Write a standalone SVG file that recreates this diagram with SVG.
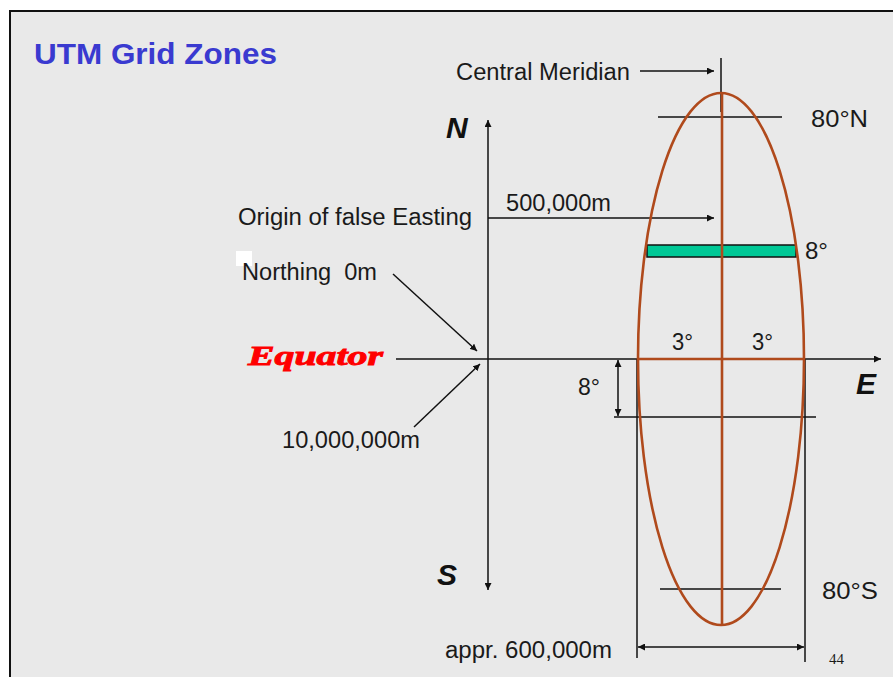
<svg xmlns="http://www.w3.org/2000/svg" width="893" height="677" viewBox="0 0 893 677">
<defs>
<marker id="ah" viewBox="0 0 10 10" refX="10" refY="5" markerWidth="7" markerHeight="7" markerUnits="userSpaceOnUse" orient="auto-start-reverse">
<path d="M0,0 L10,5 L0,10 z" fill="#111"/>
</marker>
<style>
.lbl{font-family:"Liberation Sans",Arial,sans-serif;fill:#1a1a1a;font-size:23px}
.ax{font-family:"Liberation Sans",Arial,sans-serif;fill:#111;font-size:30px;font-weight:bold;font-style:italic}
.ln{stroke:#111;stroke-width:1.5;fill:none}
.br{stroke:#b04a1c;stroke-width:2.6;fill:none}
</style>
</defs>
<rect x="0" y="0" width="893" height="677" fill="#ffffff"/>
<rect x="10" y="11" width="900" height="700" fill="#e9e9e9" stroke="#111" stroke-width="2"/>
<g id="title"><text x="34" y="64" font-family="Liberation Sans,Arial,sans-serif" font-weight="bold" font-size="29" fill="#3a3ad0" textLength="243" lengthAdjust="spacingAndGlyphs">UTM Grid Zones</text></g>
<g id="connectors">
<line class="ln" x1="721" y1="58" x2="721" y2="112"/>
<line class="ln" x1="640" y1="71" x2="714" y2="71" marker-end="url(#ah)"/>
<line class="ln" x1="488" y1="358" x2="488" y2="120" marker-end="url(#ah)"/>
<line class="ln" x1="488" y1="358" x2="488" y2="590" marker-end="url(#ah)"/>
<line class="ln" x1="488" y1="218" x2="714" y2="218" marker-end="url(#ah)"/>
<line class="ln" x1="396" y1="359" x2="881" y2="359" marker-end="url(#ah)"/>
<line class="ln" x1="393" y1="274" x2="477" y2="351" marker-end="url(#ah)"/>
<line class="ln" x1="414" y1="427" x2="480" y2="364" marker-end="url(#ah)"/>
<line class="ln" x1="658" y1="117" x2="782" y2="117"/>
<line class="ln" x1="660" y1="589" x2="781" y2="589"/>
<line class="ln" x1="637" y1="359" x2="637" y2="658"/>
<line class="ln" x1="805" y1="359" x2="805" y2="662"/>
<line class="ln" x1="614" y1="417" x2="816" y2="417"/>
<line class="ln" x1="618" y1="360" x2="618" y2="416" marker-start="url(#ah)" marker-end="url(#ah)"/>
<line class="ln" x1="638" y1="647" x2="804" y2="647" marker-start="url(#ah)" marker-end="url(#ah)"/>
</g>
<g id="zone">
<rect x="647" y="245" width="149" height="12" fill="#00c896" stroke="#111" stroke-width="1.5"/>
<ellipse class="br" cx="721" cy="359" rx="83" ry="266"/>
<line class="br" x1="722" y1="93" x2="722" y2="625"/>
<line class="br" x1="638" y1="359" x2="805" y2="359" stroke="#8a3a18" stroke-width="3"/>
</g>
<g id="labels">
<text class="lbl" x="456" y="80" textLength="174" lengthAdjust="spacingAndGlyphs">Central Meridian</text>
<text class="lbl" x="811" y="127" font-size="25" textLength="57" lengthAdjust="spacingAndGlyphs">80°N</text>
<text class="ax" x="446" y="138">N</text>
<text class="lbl" x="506" y="211" textLength="105" lengthAdjust="spacingAndGlyphs">500,000m</text>
<text class="lbl" x="238" y="225" textLength="234" lengthAdjust="spacingAndGlyphs">Origin of false Easting</text>
<rect x="236" y="251" width="16" height="15" fill="#ffffff"/>
<text class="lbl" x="242" y="280" textLength="135" lengthAdjust="spacingAndGlyphs" xml:space="preserve">Northing  0m</text>
<text x="248" y="365" font-family="Liberation Serif,'Times New Roman',serif" font-weight="bold" font-style="italic" font-size="27" fill="#ff0000" stroke="#ff0000" stroke-width="0.9" textLength="135" lengthAdjust="spacingAndGlyphs">Equator</text>
<text class="lbl" x="805" y="259" textLength="23" lengthAdjust="spacingAndGlyphs">8°</text>
<text class="lbl" x="672" y="350" textLength="21" lengthAdjust="spacingAndGlyphs">3°</text>
<text class="lbl" x="752" y="350" textLength="21" lengthAdjust="spacingAndGlyphs">3°</text>
<text class="lbl" x="578" y="395" textLength="22" lengthAdjust="spacingAndGlyphs">8°</text>
<text class="ax" x="856" y="394">E</text>
<text class="lbl" x="282" y="448" textLength="138" lengthAdjust="spacingAndGlyphs">10,000,000m</text>
<text class="ax" x="437" y="585">S</text>
<text class="lbl" x="822" y="599" font-size="25" textLength="56" lengthAdjust="spacingAndGlyphs">80°S</text>
<text class="lbl" x="445" y="658" textLength="167" lengthAdjust="spacingAndGlyphs">appr. 600,000m</text>
<text x="829" y="664" font-family="Liberation Serif,'Times New Roman',serif" font-size="15" fill="#1a1a1a">44</text>
</g>
</svg>
